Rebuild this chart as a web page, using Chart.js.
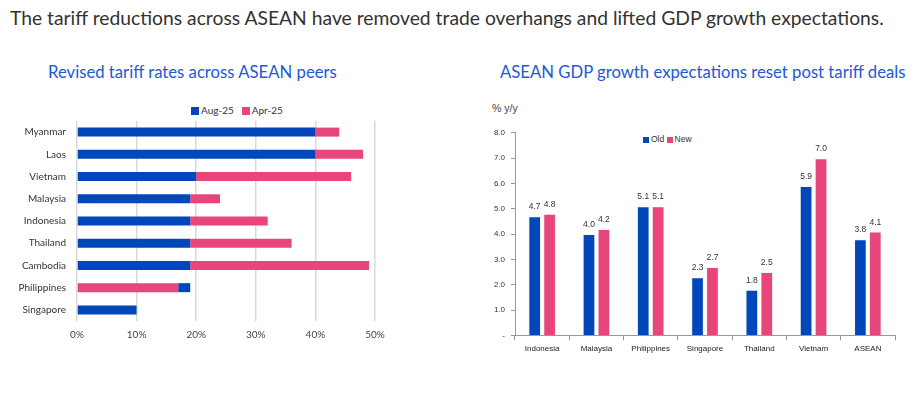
<!DOCTYPE html>
<html>
<head>
<meta charset="utf-8">
<script src="https://cdn.jsdelivr.net/npm/chart.js@4.4.1/dist/chart.umd.min.js"></script>
<style>
  body { margin: 0; width: 918px; height: 396px; background: #fff; position: relative; overflow: hidden; font-family: Lato, sans-serif; }
  .main-title { position: absolute; left: 10px; top: 6px; font-size: 19.3px; color: #333; white-space: nowrap; }
  .sub-title { position: absolute; top: 62px; font-size: 16.7px; color: #2458d6; white-space: nowrap; }
  .unit { position: absolute; left: 492px; top: 102px; font-family: Arial, "Liberation Sans", sans-serif; font-size: 10.5px; color: #444; }
  .legend { position: absolute; white-space: nowrap; }
  .legend span.box { display: inline-block; }
  .legend1 { left: 191px; top: 104px; font-size: 10px; color: #333; }
  .legend1 span.box { width: 8px; height: 8px; margin-right: 2px; vertical-align: -0.5px; }
  .legend1 span.gap { margin-left: 8px; }
  .legend2 { left: 643px; top: 134px; font-family: Arial, "Liberation Sans", sans-serif; font-size: 8.5px; color: #333; }
  .legend2 span.box { width: 6px; height: 6px; margin-right: 2px; vertical-align: -0.5px; }
  #tariffChart { position: absolute; left: 0; top: 112px; }
  #gdpChart { position: absolute; left: 480px; top: 122px; }
</style>
</head>
<body>
<div class="main-title">The tariff reductions across ASEAN have removed trade overhangs and lifted GDP growth expectations.</div>
<div class="sub-title" style="left:48px">Revised tariff rates across ASEAN peers</div>
<div class="sub-title" style="left:500px">ASEAN GDP growth expectations reset post tariff deals</div>
<div class="unit">% y/y</div>
<div class="legend legend1"><span class="box" style="background:#0047bb"></span>Aug-25<span class="box gap" style="background:#e8457a"></span>Apr-25</div>
<div class="legend legend2"><span class="box" style="background:#0047bb"></span>Old <span class="box" style="background:#e8457a"></span>New</div>

<canvas id="tariffChart" width="395" height="237"></canvas>
<canvas id="gdpChart" width="425" height="236"></canvas>

<script>
// tariff chart data
const tariffCountries = ['Myanmar', 'Laos', 'Vietnam', 'Malaysia', 'Indonesia', 'Thailand', 'Cambodia', 'Philippines', 'Singapore'];
const aug25 = [40, 40, 20, 19, 19, 19, 19, 19, 10];
const apr25 = [44, 48, 46, 24, 32, 36, 49, 17, 10];
const tariffTicks = ['0%', '10%', '20%', '30%', '40%', '50%'];

// gdp chart data
const gdpCountries = ['Indonesia', 'Malaysia', 'Philippines', 'Singapore', 'Thailand', 'Vietnam', 'ASEAN'];
const gdpOld = [4.7, 4.0, 5.1, 2.3, 1.8, 5.9, 3.8];
const gdpNew = [4.8, 4.2, 5.1, 2.7, 2.5, 7.0, 4.1];

const BLUE = '#0047bb';
const PINK = '#e8457a';

// smaller value sits in front, the rest of the larger one shows behind it
const augSeg = aug25.map((a, i) => a <= apr25[i] ? [0, a] : [apr25[i], a]);
const aprSeg = apr25.map((p, i) => p >= aug25[i] ? [aug25[i], p] : [0, p]);

new Chart(document.getElementById('tariffChart'), {
    type: 'bar',
    data: {
        labels: tariffCountries,
        datasets: [
            { label: 'Aug-25', data: augSeg, backgroundColor: BLUE, grouped: false, borderSkipped: false },
            { label: 'Apr-25', data: aprSeg, backgroundColor: PINK, grouped: false, borderSkipped: false }
        ]
    },
    options: {
        indexAxis: 'y',
        responsive: false,
        animation: false,
        barPercentage: 0.45,
        categoryPercentage: 0.9,
        layout: { padding: { right: 20, top: 8, bottom: 0 } },
        plugins: {
            tooltip: { enabled: false },
            legend: { display: false }
        },
        scales: {
            x: {
                min: 0, max: 50,
                ticks: {
                    stepSize: 10,
                    color: '#444',
                    font: { family: 'Lato', size: 10 },
                    padding: 8,
                    callback: (v) => tariffTicks[v / 10]
                },
                grid: { color: '#d9d9d9', lineWidth: 1.5, drawTicks: false },
                border: { display: false }
            },
            y: {
                ticks: { color: '#333', font: { family: 'Lato', size: 10 }, padding: 3 },
                grid: { display: false },
                border: { display: false },
                afterFit: (s) => { s.width = 77; }
            }
        }
    }
});

// draws values above the gdp bars
const barValues = {
    id: 'barValues',
    afterDatasetsDraw(chart) {
        const ctx = chart.ctx;
        ctx.save();
        ctx.font = '8.5px Arial, "Liberation Sans", sans-serif';
        ctx.fillStyle = '#333';
        ctx.textAlign = 'center';
        ctx.textBaseline = 'bottom';
        chart.data.datasets.forEach((ds, di) => {
            chart.getDatasetMeta(di).data.forEach((bar, i) => {
                ctx.fillText(ds.data[i].toFixed(1), bar.x, bar.y - 5);
            });
        });
        ctx.restore();
    }
};

new Chart(document.getElementById('gdpChart'), {
    type: 'bar',
    data: {
        labels: gdpCountries,
        datasets: [
            { label: 'Old', data: gdpOld, backgroundColor: BLUE, borderColor: '#f4f4f8', borderWidth: 1 },
            { label: 'New', data: gdpNew, backgroundColor: PINK, borderColor: '#f4f4f8', borderWidth: 1 }
        ]
    },
    options: {
        responsive: false,
        animation: false,
        barPercentage: 0.85,
        categoryPercentage: 0.55,
        layout: { padding: { right: 10, top: 10, bottom: 0 } },
        plugins: {
            tooltip: { enabled: false },
            legend: { display: false }
        },
        scales: {
            x: {
                ticks: { color: '#222', font: { family: 'Arial', size: 8 }, padding: 4 },
                grid: { offset: true, drawOnChartArea: false, tickLength: 5, color: '#999' },
                border: { color: '#999' }
            },
            y: {
                min: 0, max: 8,
                ticks: {
                    stepSize: 1,
                    color: '#333',
                    font: { family: 'Arial', size: 8 },
                    padding: 6,
                    callback: (v) => v === 0 ? '-' : v.toFixed(1)
                },
                grid: { drawOnChartArea: false, tickLength: 4, color: '#999' },
                border: { color: '#999' },
                afterFit: (s) => { s.width = 35; }
            }
        }
    },
    plugins: [barValues]
});
</script>
</body>
</html>
